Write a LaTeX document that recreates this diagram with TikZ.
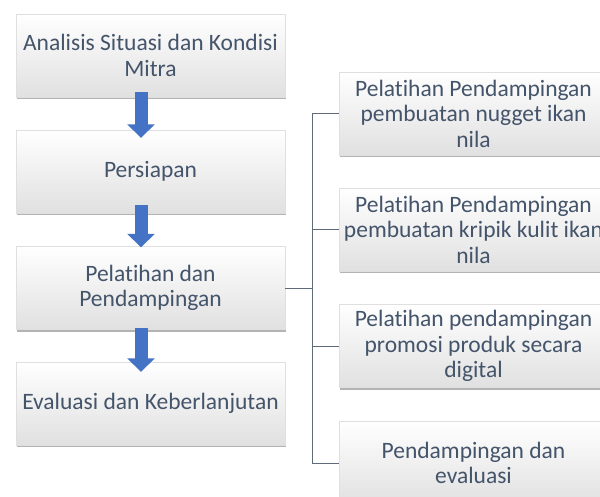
\documentclass[tikz,border=0pt]{standalone}
\usepackage{fontspec}
\setmainfont{Carlito}[Ligatures=NoCommon]
\usetikzlibrary{arrows.meta,shadows}
\definecolor{textslate}{HTML}{44546A}
\definecolor{arrowblue}{HTML}{4472C4}
\definecolor{linegray}{HTML}{5F6B7A}

\begin{document}
\begin{tikzpicture}[x=1pt,y=-1pt,
	stagebox/.style={rectangle, draw=gray!25, top color=white, bottom color=gray!24,
		minimum width=269pt, minimum height=83pt, align=center,
		text=textslate, font=\fontsize{23.5}{25.5}\selectfont,
		drop shadow={shadow xshift=1pt, shadow yshift=-2pt, opacity=0.6, fill=gray}},
	blockarrow/.style={draw=arrowblue, line width=13pt,
		-{Triangle[width=27pt,length=13.5pt]}},
	connector/.style={draw=linegray, line width=0.8pt}]
		\useasboundingbox (0,0) rectangle (600,497);
		% main steps
		\draw (150.5,55.5) node [stagebox] (analisis) {Analisis Situasi dan Kondisi\\Mitra};
		\draw (150.5,171.5) node [stagebox] (persiapan) {Persiapan};
		\draw (150.5,288) node [stagebox] (pelatihan) {Pelatihan dan\\Pendampingan};
		\draw (150.5,403.5) node [stagebox] (evaluasi) {Evaluasi dan Keberlanjutan};
		% activities
		\draw (473.5,113.5) node [stagebox] (nugget) {Pelatihan Pendampingan\\pembuatan nugget ikan\\nila};
		\draw (473.5,229.5) node [stagebox] (kripik) {Pelatihan Pendampingan\\pembuatan kripik kulit ikan\\nila};
		\draw (473.5,346) node [stagebox] (promosi) {Pelatihan pendampingan\\promosi produk secara\\digital};
		\draw (473.5,463) node [stagebox] (pendampingan) {Pendampingan dan\\evaluasi};
		% arrows
		\draw[blockarrow] ([xshift=-9.5pt,yshift=5pt]analisis.south) -- ([xshift=-9.5pt,yshift=-8pt]persiapan.north);
		\draw[blockarrow] ([xshift=-9.5pt,yshift=8pt]persiapan.south) -- ([xshift=-9.5pt,yshift=-1pt]pelatihan.north);
		\draw[blockarrow] ([xshift=-9.5pt,yshift=2pt]pelatihan.south) -- ([xshift=-9.5pt,yshift=-10pt]evaluasi.north);
		% bracket
		\coordinate (fork) at (312,288);
		\path[connector]
			(pelatihan.east) -- (fork)
			(fork) |- (nugget.west)
			(fork) |- (kripik.west)
			(fork) |- (promosi.west)
			(fork) |- (pendampingan.west);
	\end{tikzpicture}
\end{document}
